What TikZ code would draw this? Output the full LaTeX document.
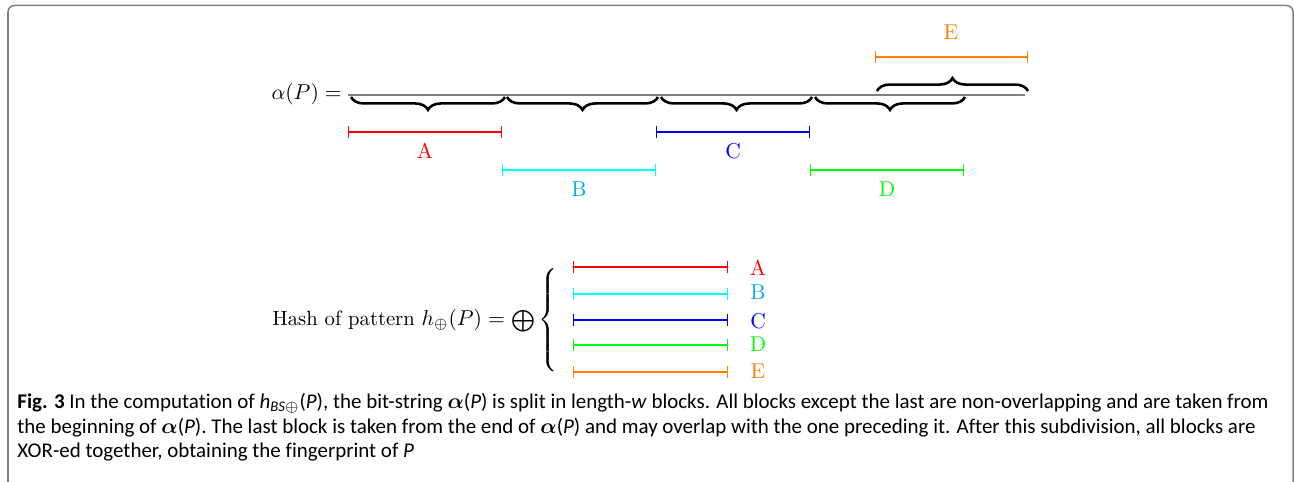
\documentclass[tikz,border=0pt]{standalone}
\usepackage{amsmath}
\usepackage{fontspec}
\usetikzlibrary{arrows.meta,decorations.pathreplacing}
\newfontfamily\capfont[Ligatures={NoCommon}]{Carlito}
\definecolor{linecyan}{RGB}{0,255,255}
\tikzset{
  blockspan/.style={arrows={Bar[width=6pt]-Bar[width=6pt]}, line width=0.6pt},
  blockbrace/.style={decorate, decoration={brace, amplitude=6pt}, line width=1.2pt},
  capline/.style={anchor=base west, inner sep=0pt, font=\capfont\fontsize{9.75}{12}\selectfont}
}
\begin{document}
\begin{tikzpicture}[x=0.4651pt, y=-0.4651pt]
\useasboundingbox (0,0) rectangle (1294,482);
\draw[gray, line width=0.7pt, rounded corners=3pt] (8,540) -- (8,5.5) -- (1293,5.5) -- (1293,540);

% the bit-string and its blocks
\node[anchor=base east, inner sep=0pt] (alpha) at (342,100) {$\alpha(P) =$};
\draw[gray, line width=0.9pt] (348,95) -- (1025,95);
\draw[blockbrace, decoration={mirror}] (351,97) -- (505,97);
\draw[blockbrace, decoration={mirror}] (507,97) -- (658,97);
\draw[blockbrace, decoration={mirror}] (661,97) -- (812,97);
\draw[blockbrace, decoration={mirror}] (815,97) -- (965,97);
\draw[blockbrace] (877,91) -- (1028,91);

\draw[blockspan, red] (348,132) -- (502,132);
\node[red] (a) at (425,151) {A};
\draw[blockspan, linecyan] (502,170) -- (656,170);
\node[cyan] (b) at (579,189) {B};
\draw[blockspan, blue] (656,132) -- (810,132);
\node[blue] (c) at (733,151) {C};
\draw[blockspan, green] (810,170) -- (964,170);
\node[green] (d) at (887,189) {D};
\draw[blockspan, orange] (875,57) -- (1028,57);
\node[orange] (e) at (951,32) {E};

% xor of all blocks
\node[anchor=west, inner sep=0pt, font=\fontsize{9.6}{12}\selectfont] (hash) at (272,320) {Hash of pattern $h_{\oplus}(P) =$};
\node[inner sep=0pt] (xor) at (523,321) {$\bigoplus$};
\node[inner sep=0pt] (curly) at (549,320) {$\left\{\vcenter{\hbox{\rule{0pt}{50pt}}}\right.$};
\draw[blockspan, red] (573,267) -- (728,267);
\node[red] (xa) at (758,268) {A};
\draw[blockspan, linecyan] (573,294) -- (728,294);
\node[cyan] (xb) at (758,292) {B};
\draw[blockspan, blue] (573,320) -- (728,320);
\node[blue] (xc) at (758,321) {C};
\draw[blockspan, green] (573,345) -- (728,345);
\node[green] (xd) at (758,344) {D};
\draw[blockspan, orange] (573,372) -- (728,372);
\node[orange] (xe) at (758,371) {E};

% caption
\node[capline] (cap1) at (17,408.5) {\textbf{Fig. 3} In the computation of \textit{h}\textsubscript{\textit{BS}$\oplus$}(\textit{P}), the bit-string $\boldsymbol{\alpha}$(\textit{P}) is split in length-\textit{w} blocks. All blocks except the last are non-overlapping and are taken from};
\node[capline] (cap2) at (17,433) {the beginning of $\boldsymbol{\alpha}$(\textit{P}). The last block is taken from the end of $\boldsymbol{\alpha}$(\textit{P}) and may overlap with the one preceding it. After this subdivision, all blocks are};
\node[capline] (cap3) at (17,457) {XOR-ed together, obtaining the fingerprint of \textit{P}};
\end{tikzpicture}
\end{document}
